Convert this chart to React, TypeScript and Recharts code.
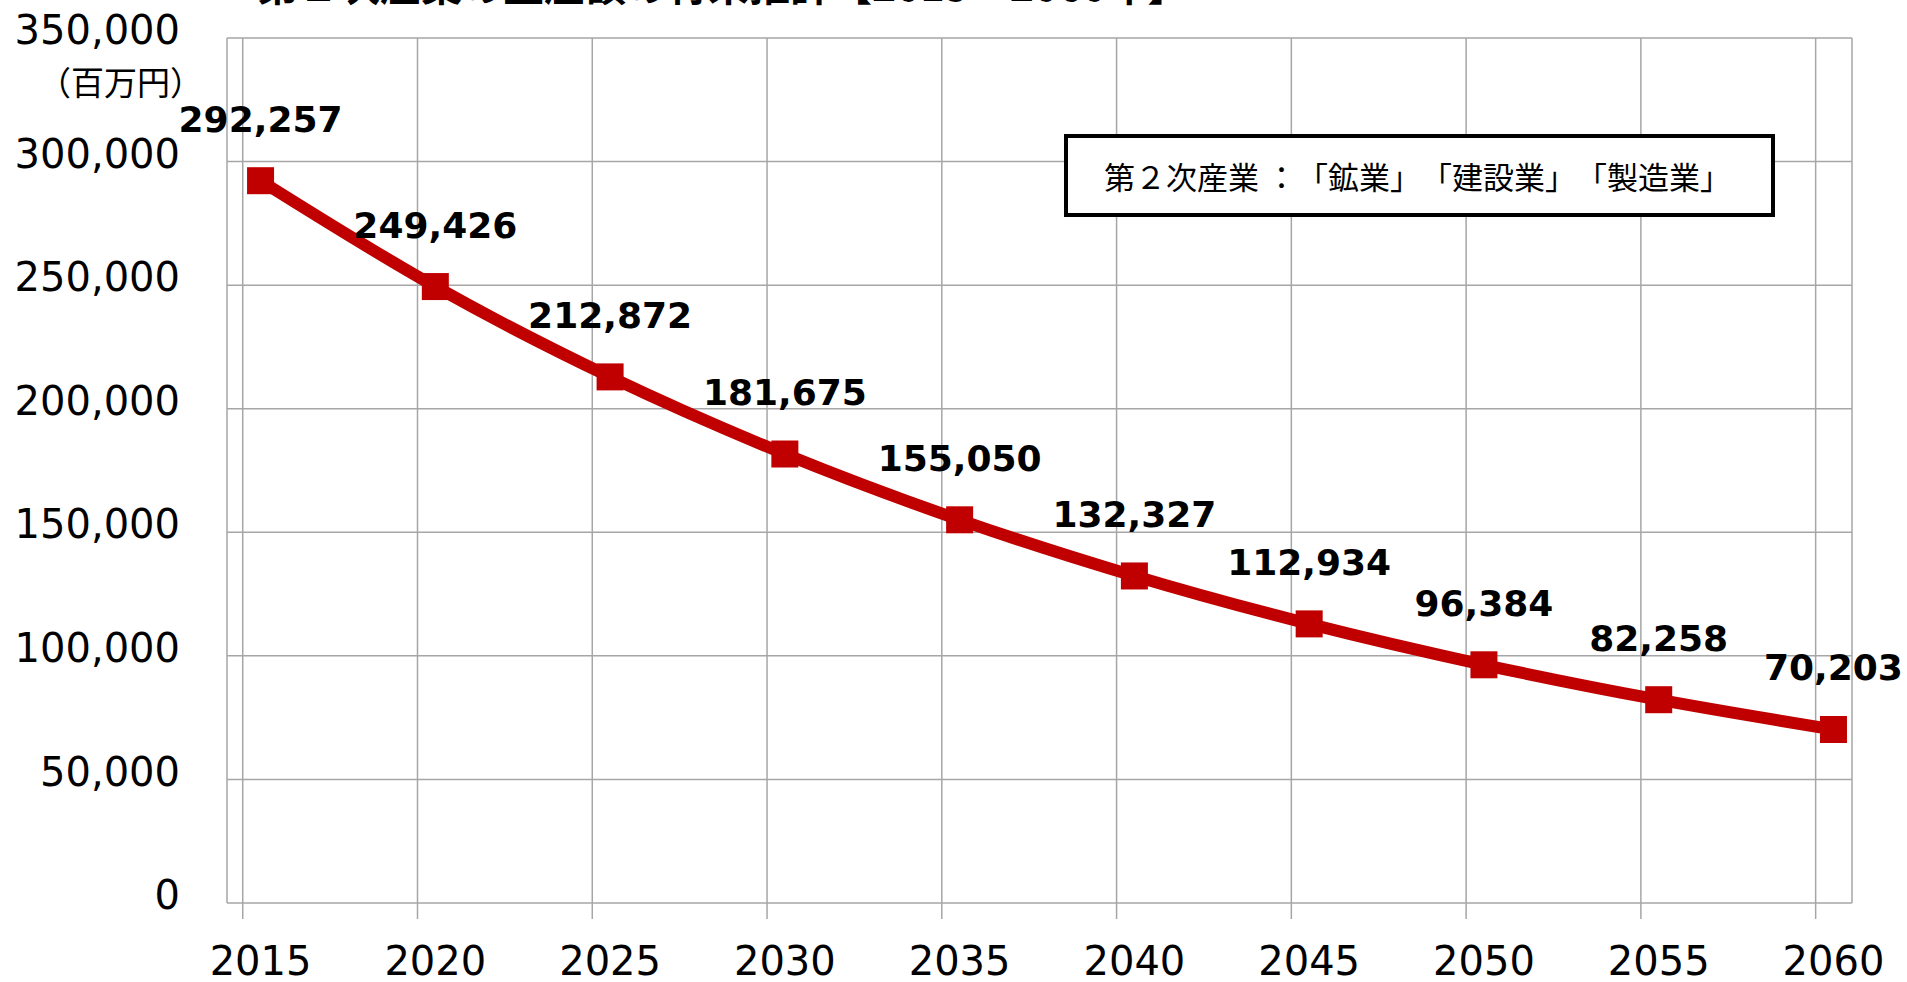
import React from 'react';
import { LineChart, Line, XAxis, YAxis, CartesianGrid, LabelList } from 'recharts';

const years = [2015, 2020, 2025, 2030, 2035, 2040, 2045, 2050, 2055, 2060];
const values = [292257, 249426, 212872, 181675, 155050, 132327, 112934, 96384, 82258, 70203];
const yTicks = [0, 50000, 100000, 150000, 200000, 250000, 300000, 350000];
const titleText = '第２次産業の生産額の将来推計【2015～2060年】';
const unitText = '（百万円）';
const legendText = '第２次産業 ：「鉱業」「建設業」「製造業」';

// vertical grid lines sit half a step before each category (as in the original Excel chart)
const GRID_SHIFT = 0.51;
const gridYears = years.map((y) => y - GRID_SHIFT);
const X_DOMAIN: [number, number] = [2014.04, 2060.53];

const data = years.map((year, i) => ({ year, value: values[i] }));

const RED = '#C00000';
const GRID = '#A6A6A6';
const NUM_FONT = '"DejaVu Sans", Verdana, sans-serif';
const CJK_FONT = '"Noto Sans CJK JP", sans-serif';

const fmt = (v: number) => v.toLocaleString('en-US');

const YTick = (props: any) => {
  const { x, y, payload } = props;
  return (
    <text x={x} y={y} dy="0.355em" transform="translate(0,-8)" textAnchor="end" fontSize={40} fontFamily={NUM_FONT} fill="#000">
      {fmt(payload.value)}
    </text>
  );
};

const XTick = (props: any) => {
  const { x, y, payload } = props;
  return (
    <text x={x} y={y} dy="0.71em" textAnchor="middle" fontSize={40} fontFamily={NUM_FONT} fill="#000">
      {payload.value}
    </text>
  );
};

const EmptyTick = () => <g />;

const SquareDot = (props: any) => {
  const { cx, cy, index } = props;
  if (cx == null || cy == null) return <g key={`d${index}`} />;
  return <rect key={`d${index}`} x={cx - 13.5} y={cy - 13.5} width={27} height={27} fill={RED} />;
};

const cjkStyle: any = { textSpacingTrim: 'space-all' };

export default function App() {
  return (
    <div style={{ position: 'fixed', left: 0, top: 0, width: 1907, height: 982, background: '#fff', overflow: 'hidden' }}>
      <div
        style={{
          position: 'absolute',
          left: 257,
          top: -37,
          fontFamily: CJK_FONT,
          fontWeight: 'bold',
          fontSize: 41,
          lineHeight: '41px',
          whiteSpace: 'nowrap',
          color: '#000',
          ...cjkStyle,
        }}
      >
        {titleText}
      </div>
      <LineChart width={1907} height={982} data={data} margin={{ top: 38, right: 55, bottom: 0, left: 0 }}>
        <XAxis
          xAxisId={0}
          type="number"
          dataKey="year"
          domain={X_DOMAIN}
          ticks={gridYears}
          allowDataOverflow
          height={1}
          axisLine={false}
          tickLine={{ stroke: GRID, strokeWidth: 1.5 }}
          tickSize={16}
          tick={EmptyTick}
          interval={0}
        />
        <XAxis
          xAxisId="main"
          type="number"
          dataKey="year"
          domain={X_DOMAIN}
          ticks={years}
          allowDataOverflow
          height={78}
          axisLine={false}
          tickLine={false}
          tickSize={0}
          tickMargin={43}
          tick={XTick}
          interval={0}
        />
        <YAxis
          type="number"
          domain={[0, 350000]}
          ticks={yTicks}
          width={227}
          axisLine={false}
          tickLine={false}
          tickSize={0}
          tickMargin={47}
          tick={YTick}
          interval={0}
        />
        <CartesianGrid xAxisId={0} stroke={GRID} strokeWidth={1.5} />
        <Line
          xAxisId="main"
          type="monotone"
          dataKey="value"
          stroke={RED}
          strokeWidth={12}
          dot={SquareDot}
          activeDot={false}
          isAnimationActive={false}
        >
          <LabelList
            dataKey="value"
            position="top"
            offset={49}
            formatter={(v: any) => fmt(Number(v))}
            style={{ fontSize: 36, fontWeight: 'bold', fontFamily: NUM_FONT, fill: '#000' }}
          />
        </Line>
      </LineChart>
      <div
        style={{
          position: 'absolute',
          left: 0,
          top: 62,
          width: 203,
          textAlign: 'right',
          fontFamily: CJK_FONT,
          fontSize: 33,
          lineHeight: '38px',
          color: '#000',
          whiteSpace: 'nowrap',
        }}
      >
        {unitText}
      </div>
      <div
        style={{
          position: 'absolute',
          left: 1064,
          top: 134,
          width: 711,
          height: 83,
          border: '4px solid #000',
          background: '#fff',
          display: 'flex',
          alignItems: 'center',
          paddingLeft: 36,
          boxSizing: 'border-box',
          fontFamily: CJK_FONT,
          fontSize: 31,
          color: '#000',
          whiteSpace: 'nowrap',
          ...cjkStyle,
        }}
      >
        {legendText}
      </div>
    </div>
  );
}
